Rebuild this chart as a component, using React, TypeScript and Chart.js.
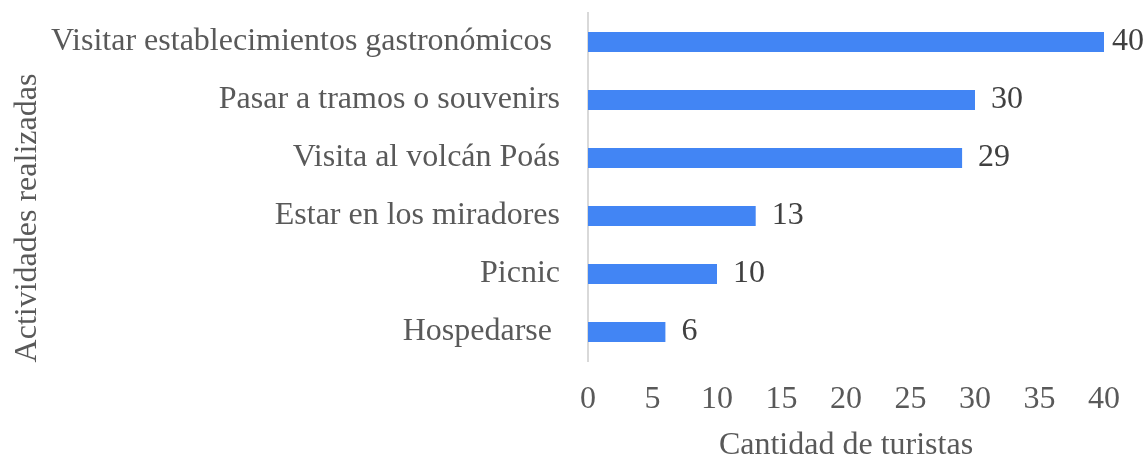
import React, { useEffect, useRef } from "react";
import { Chart, registerables } from "chart.js";

Chart.register(...registerables);

const categories = [
  "Visitar establecimientos gastronómicos ",
  "Pasar a tramos o souvenirs",
  "Visita al volcán Poás",
  "Estar en los miradores",
  "Picnic",
  "Hospedarse ",
];
const touristCounts = [40, 30, 29, 13, 10, 6];
const xTickMin = 0;
const xTickMax = 40;
const xTickStep = 5;
const xTitle = "Cantidad de turistas";
const yTitle = "Actividades realizadas";

const FONT = "'Liberation Serif', 'Times New Roman', serif";

const dataLabelPlugin = {
  id: "dataLabels",
  afterDatasetsDraw(chart: any) {
    const ctx = chart.ctx;
    const meta = chart.getDatasetMeta(0);
    ctx.save();
    ctx.font = `32px ${FONT}`;
    ctx.fillStyle = "#404040";
    ctx.textAlign = "left";
    ctx.textBaseline = "middle";
    meta.data.forEach((el: any, i: number) => {
      const text = String(touristCounts[i]);
      const w = ctx.measureText(text).width;
      let x = el.x + 16;
      const maxRight = chart.width - 3;
      if (x + w > maxRight) x = maxRight - w;
      ctx.fillText(text, x, el.y);
    });
    ctx.restore();
  },
};

const yTitlePlugin = {
  id: "yTitle",
  afterDraw(chart: any) {
    const ctx = chart.ctx;
    ctx.save();
    ctx.font = `32px ${FONT}`;
    ctx.fillStyle = "#595959";
    ctx.textAlign = "center";
    ctx.textBaseline = "alphabetic";
    ctx.translate(36, 218);
    ctx.rotate(-Math.PI / 2);
    ctx.fillText(yTitle, 0, 0);
    ctx.restore();
  },
};

export default function App() {
  const canvasRef = useRef<HTMLCanvasElement | null>(null);

  useEffect(() => {
    if (!canvasRef.current) return;
    const chart = new Chart(canvasRef.current, {
      type: "bar",
      data: {
        labels: categories,
        datasets: [
          {
            data: touristCounts,
            backgroundColor: "#4285F4",
            borderWidth: 0,
            barPercentage: 0.345,
            categoryPercentage: 1,
          },
        ],
      },
      options: {
        indexAxis: "y",
        responsive: false,
        animation: false,
        layout: { padding: { top: 13, right: 43, left: 0, bottom: 0 } },
        plugins: {
          legend: { display: false },
          tooltip: { enabled: false },
        },
        scales: {
          x: {
            min: xTickMin,
            max: xTickMax,
            ticks: {
              stepSize: xTickStep,
              color: "#595959",
              font: { family: FONT, size: 32 },
              padding: 19,
              maxRotation: 0,
            },
            grid: { display: false, drawTicks: false },
            border: { display: false },
            title: {
              display: true,
              text: xTitle,
              color: "#595959",
              font: { family: FONT, size: 32, lineHeight: 0.9 },
              padding: { top: 0, bottom: 0.4 },
            },
            afterFit(scale: any) {
              scale.height = 99;
              scale.paddingLeft = 0;
              scale.paddingRight = 0;
            },
          },
          y: {
            ticks: {
              color: "#595959",
              font: { family: FONT, size: 32 },
              padding: 28,
            },
            grid: { display: false, drawTicks: false },
            border: { display: true, color: "#D9D9D9", width: 2 },
            afterFit(scale: any) {
              scale.width = 588;
              scale.paddingTop = 0;
              scale.paddingBottom = 0;
            },
          },
        },
      },
      plugins: [dataLabelPlugin, yTitlePlugin],
    });
    return () => chart.destroy();
  }, []);

  return (
    <div style={{ position: "fixed", left: 0, top: 0, width: 1147, height: 460, background: "#fff" }}>
      <canvas ref={canvasRef} width={1147} height={460} />
    </div>
  );
}
